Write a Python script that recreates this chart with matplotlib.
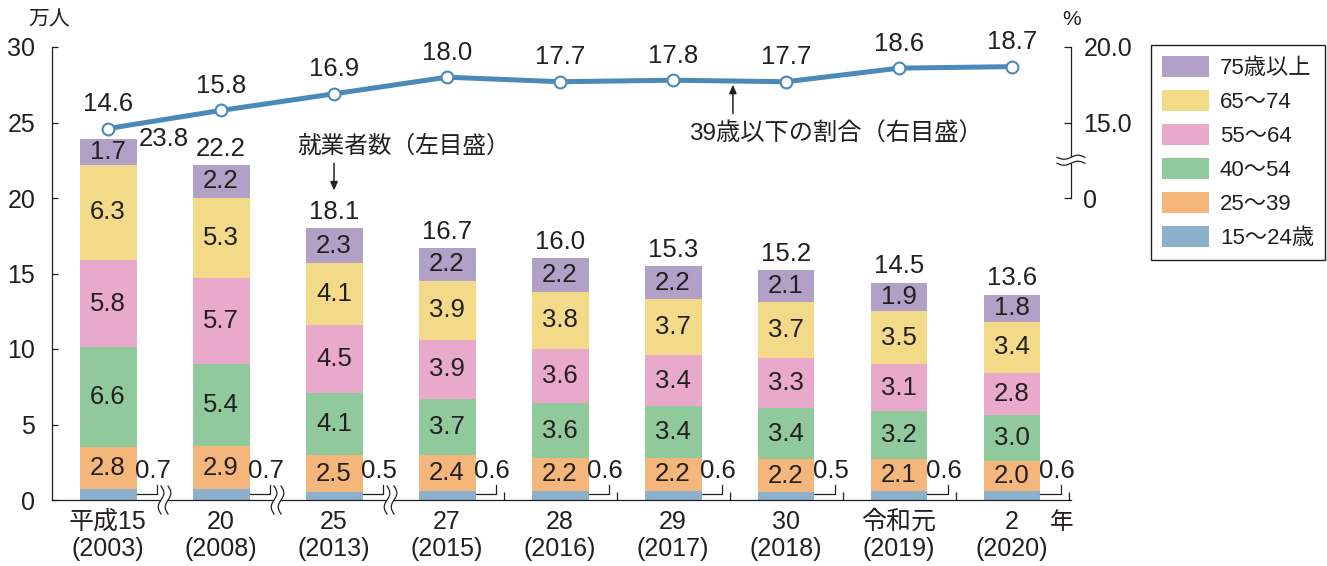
import numpy as np
import matplotlib
matplotlib.use('Agg')
import matplotlib.pyplot as plt
import matplotlib.transforms as mtransforms
from matplotlib.patches import Polygon

ink = '#231f20'
plt.rcParams['font.family'] = ['Liberation Sans', 'Noto Sans CJK JP']
plt.rcParams['text.color'] = ink
plt.rcParams['axes.edgecolor'] = ink
plt.rcParams['xtick.color'] = ink
plt.rcParams['ytick.color'] = ink

## data ##
years = ['平成15\n(2003)', '20\n(2008)', '25\n(2013)', '27\n(2015)', '28\n(2016)',
         '29\n(2017)', '30\n(2018)', '令和元\n(2019)', '2\n(2020)']
age_groups = ['15～24歳', '25～39', '40～54', '55～64', '65～74', '75歳以上']
age_15_24 = [0.7, 0.7, 0.5, 0.6, 0.6, 0.6, 0.5, 0.6, 0.6]
age_25_39 = [2.8, 2.9, 2.5, 2.4, 2.2, 2.2, 2.2, 2.1, 2.0]
age_40_54 = [6.6, 5.4, 4.1, 3.7, 3.6, 3.4, 3.4, 3.2, 3.0]
age_55_64 = [5.8, 5.7, 4.5, 3.9, 3.6, 3.4, 3.3, 3.1, 2.8]
age_65_74 = [6.3, 5.3, 4.1, 3.9, 3.8, 3.7, 3.7, 3.5, 3.4]
age_75_up = [1.7, 2.2, 2.3, 2.2, 2.2, 2.2, 2.1, 1.9, 1.8]
totals = [23.8, 22.2, 18.1, 16.7, 16.0, 15.3, 15.2, 14.5, 13.6]
under39_pct = [14.6, 15.8, 16.9, 18.0, 17.7, 17.8, 17.7, 18.6, 18.7]

colors = ['#8bb1cc', '#f5b67b', '#90c99b', '#e9a9cb', '#f2da88', '#b1a1c7']
line_color = '#4a89b8'

fig = plt.figure(figsize=(13.27, 5.66), dpi=100)
ax = fig.add_axes([52 / 1327, 66 / 566, 1019 / 1327, 453 / 566])
x = np.arange(len(years))
bw = 0.504

## stacked bars ##
series = [age_15_24, age_25_39, age_40_54, age_55_64, age_65_74, age_75_up]
bottom = np.zeros(len(years))
handles = []
for k, (vals, name, c) in enumerate(zip(series, age_groups, colors)):
    bars = ax.bar(x, vals, bw, bottom=bottom, color=c, label=name, zorder=2)
    handles.append(bars)
    if k > 0:
        ax.bar_label(bars, labels=[f'{v:.1f}' for v in vals], label_type='center',
                     fontsize=18.5)
    bottom = bottom + np.array(vals)

# small 15-24 values off to the right of each bar
for i, v in enumerate(age_15_24):
    xr = i + bw / 2
    ax.plot([xr, i + 0.43, i + 0.43], [0.38, 0.38, 1.0], color=ink, lw=0.9,
            zorder=3, clip_on=False)
    ax.text(i + 0.40, 1.95, f'{v:.1f}', ha='center', va='center', fontsize=18.5)

# totals
for i, t in enumerate(totals):
    if i == 0:
        ax.text(i + 0.49, bottom[i], f'{t:.1f}', ha='center', va='center', fontsize=18.5)
    else:
        ax.annotate(f'{t:.1f}', (i, bottom[i]), xytext=(0, 3), textcoords='offset points',
                    ha='center', va='bottom', fontsize=18.5)

ax.set_xlim(-0.496, 8.522)
ax.set_ylim(0, 30)
ax.set_yticks(range(0, 31, 5))
ax.tick_params(axis='y', direction='in', length=4.5, width=0.9, labelsize=18, pad=12)
ax.set_xticks(x)
ax.set_xticklabels(years, fontsize=18, linespacing=1.15)
ax.tick_params(axis='x', which='major', length=0, pad=7)
ax.set_xticks([3.5, 4.5, 5.5, 6.5, 7.5, 8.5], minor=True)
ax.tick_params(axis='x', which='minor', direction='in', length=6, width=0.9)
ax.spines['top'].set_visible(False)
ax.spines['right'].set_visible(False)
ax.spines['left'].set_linewidth(0.9)
ax.spines['bottom'].set_linewidth(0.9)

ax.text(-0.52, 31.8, '万人', ha='center', va='center', fontsize=15)
ax.text(8.44, -1.55, '年', ha='center', va='center', fontsize=17)

## share of under 39 (right axis, broken below 15) ##
ax2 = ax.twinx()
ax2.set_ylim(-10, 20)
ax2.plot(x, under39_pct, color=line_color, lw=3.6, marker='o', ms=8.5, mfc='white',
         mec=line_color, mew=1.5, zorder=5, clip_on=False)
for i, p in enumerate(under39_pct):
    ax2.annotate(f'{p:.1f}', (i, p), xytext=(0, 9), textcoords='offset points',
                 ha='center', va='bottom', fontsize=18.5)
ax2.set_yticks([10, 15, 20])
ax2.set_yticklabels(['0', '15.0', '20.0'])
ax2.tick_params(axis='y', direction='in', length=5, width=0.9, labelsize=18, pad=9)
for s in ['top', 'left', 'bottom']:
    ax2.spines[s].set_visible(False)
ax2.spines['right'].set_bounds(10, 20)
ax2.spines['right'].set_linewidth(0.9)
ax2.text(8.53, 21.8, '%', ha='center', va='center', fontsize=15)


def wave_break(a, xc, yc, vertical, w=0.14, gap=0.035, amp=0.028):
    # squiggle drawn in inches around a data anchor
    trans = fig.dpi_scale_trans + mtransforms.ScaledTranslation(xc, yc, a.transData)
    s = np.linspace(-w, w, 80)
    wv = amp * np.sin(np.pi * s / w)
    if vertical:
        p1 = np.column_stack([wv - gap, s])
        p2 = np.column_stack([wv + gap, s])
    else:
        p1 = np.column_stack([s, wv - gap])
        p2 = np.column_stack([s, wv + gap])
    a.add_patch(Polygon(np.vstack([p1, p2[::-1]]), closed=True, fc='white', ec='none',
                        transform=trans, clip_on=False, zorder=10))
    for p in (p1, p2):
        a.plot(p[:, 0], p[:, 1], color=ink, lw=0.9, transform=trans, clip_on=False,
               zorder=11)


for xb in [0.5, 1.5, 2.5]:
    wave_break(ax, xb, 0, True)
wave_break(ax2, 8.522, 12.5, False, w=0.14, gap=0.03, amp=0.02)

## annotations ##
arrow_style = '-|>,head_length=0.5,head_width=0.22'
ax2.text(1.67, 13.4, '就業者数（左目盛）', ha='left', va='center', fontsize=17)
ax2.annotate('', xy=(2, 10.5), xytext=(2, 12.3),
             arrowprops=dict(arrowstyle=arrow_style, lw=1.1, color=ink,
                             shrinkA=0, shrinkB=0))
ax2.text(5.14, 14.2, '39歳以下の割合（右目盛）', ha='left', va='center', fontsize=17.5)
ax2.annotate('', xy=(5.53, 17.5), xytext=(5.53, 15.6),
             arrowprops=dict(arrowstyle=arrow_style, lw=1.1, color=ink,
                             shrinkA=0, shrinkB=0))

leg = fig.legend(handles[::-1], age_groups[::-1], loc='upper right',
                 bbox_to_anchor=(1325 / 1327, 1 - 45 / 566), frameon=True, fancybox=False,
                 edgecolor=ink, framealpha=1, fontsize=16, handlelength=2.1,
                 handleheight=1.05, labelspacing=0.5, handletextpad=0.5, borderpad=0.5,
                 borderaxespad=0)
leg.get_frame().set_linewidth(1.0)

fig.savefig('out.png', dpi=100)
